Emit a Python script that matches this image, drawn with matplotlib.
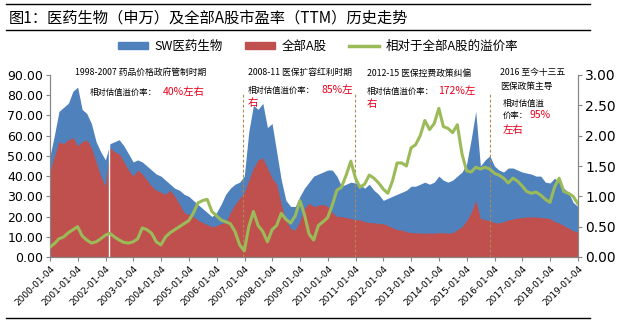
import matplotlib
matplotlib.use("Agg")
import matplotlib.pyplot as plt
import matplotlib.dates as mdates
from matplotlib.patches import Patch
from matplotlib.lines import Line2D
import pandas as pd
import numpy as np

plt.rcParams['font.family'] = ['Noto Sans CJK SC', 'DejaVu Sans']

# ---- data (bi-monthly samples) ----
dates = pd.date_range('2000-01-01', '2019-01-01', freq='2MS')

pe_pharma = [49.5, 60, 72, 74, 76, 82, 84, 73, 71, 66, 57, 52,
             48, 56, 57, 58, 55, 51, 47, 48, 47, 45, 43, 41,
             40, 38, 36, 34, 33, 31, 30, 28, 26, 24, 22, 20,
             22, 26, 31, 34, 36, 37, 40, 62, 75, 73, 76, 64,
             66, 52, 38, 28, 25, 25, 30, 34, 37, 40, 41, 42,
             43, 43, 40, 35, 36, 37, 36.6, 36, 34, 36, 33, 31,
             28, 29, 30, 31, 32, 33, 35, 35, 36, 37, 36, 37,
             40, 38, 37, 38, 40, 42, 46, 58, 72, 45, 48, 50,
             45, 43, 42, 44, 44, 43, 42, 41.5, 41, 40, 40, 37,
             36.6, 39, 37, 34, 32, 27, 25]

pe_all_a = [41.5, 50, 57, 56, 58, 59, 55, 57, 58, 54, 47, 40,
            35, 54, 52, 51, 47, 43, 40, 43, 41, 38, 35, 33,
            32, 31, 33, 30, 26, 22, 21, 20, 18.3, 17, 16, 15,
            15.5, 16.5, 17, 22, 26, 29, 32, 38, 44, 48, 49, 44,
            39, 36, 26, 18, 14, 13.3, 18, 24, 26.5, 25, 25.5, 26,
            25, 22, 20, 20, 19.5, 19, 18.5, 18.3, 17.5, 17, 17, 16.5,
            16.5, 15.5, 14.5, 13.5, 13.3, 12.5, 12, 12, 11.8, 11.8, 11.8, 11.8,
            12, 12, 11.8, 12, 13.5, 15, 18, 22, 28, 19, 18.5, 18,
            17, 16.8, 17.5, 18.3, 18.8, 19.3, 19.5, 19.8, 19.8, 19.8, 19.5, 19.3,
            19, 17.5, 16.8, 15.5, 14.3, 13, 12.4]

premium = [0.16, 0.22, 0.30, 0.33, 0.40, 0.45, 0.50, 0.35, 0.28, 0.23, 0.25, 0.30,
           0.36, 0.39, 0.33, 0.28, 0.24, 0.23, 0.25, 0.30, 0.48, 0.45, 0.39, 0.25,
           0.20, 0.33, 0.40, 0.45, 0.50, 0.55, 0.60, 0.72, 0.89, 0.93, 0.95, 0.75,
           0.68, 0.61, 0.58, 0.55, 0.42, 0.20, 0.10, 0.50, 0.75, 0.52, 0.42, 0.25,
           0.45, 0.52, 0.72, 0.62, 0.56, 0.68, 0.93, 0.70, 0.38, 0.28, 0.52, 0.58,
           0.65, 0.85, 1.10, 1.15, 1.35, 1.58, 1.30, 1.15, 1.20, 1.35, 1.30, 1.22,
           1.12, 1.05, 1.25, 1.55, 1.55, 1.50, 1.80, 1.85, 2.00, 2.25, 2.10, 2.20,
           2.45, 2.15, 2.12, 2.05, 2.18, 1.70, 1.42, 1.40, 1.48, 1.45, 1.48, 1.45,
           1.38, 1.35, 1.30, 1.22, 1.30, 1.25, 1.17, 1.08, 1.05, 1.07, 1.02, 0.95,
           0.90, 1.15, 1.30, 1.08, 1.05, 1.00, 0.88]

gap_dates = ['2002-02-15']
period_dates = ['2006-12-20', '2010-12-20', '2015-11-05']

tick_labels = ['2000-01-04', '2001-01-04', '2002-01-04', '2003-01-04', '2004-01-04',
               '2005-01-04', '2006-01-04', '2007-01-04', '2008-01-04', '2009-01-04',
               '2010-01-04', '2011-01-04', '2012-01-04', '2013-01-04', '2014-01-04',
               '2015-01-04', '2016-01-04', '2017-01-04', '2018-01-04', '2019-01-04']
left_ticks = [0, 10, 20, 30, 40, 50, 60, 70, 80, 90]
right_ticks = [0, 0.5, 1.0, 1.5, 2.0, 2.5, 3.0]

BLUE = '#4F81BD'
RED = '#C0504D'
GREEN = '#9BBB59'
DASH = '#B08850'
AXC = '#868686'

W, H = 622, 325
fig = plt.figure(figsize=(W / 100, H / 100), dpi=100)
ax = fig.add_axes([50 / W, 1 - 257 / H, 528 / W, 182 / H])

ax.fill_between(dates, pe_pharma, 0, color=BLUE, lw=0, zorder=1)
ax.fill_between(dates, pe_all_a, 0, color=RED, lw=0, zorder=2)
for d in gap_dates:
    ax.axvline(pd.Timestamp(d), color='white', lw=1.0, zorder=3)
for d in period_dates:
    ax.axvline(pd.Timestamp(d), ymin=0, ymax=0.9, color=DASH, lw=0.8,
               ls=(0, (2.5, 2)), zorder=4)

tick_dates = [pd.Timestamp(t) for t in tick_labels]
ax.set_xlim(tick_dates[0], tick_dates[-1])
ax.set_ylim(0, 90)
ax.set_yticks(left_ticks)
ax.set_yticklabels([f'{v:.2f}' for v in left_ticks], fontsize=9, family='DejaVu Sans')
ax.set_xticks(tick_dates)
ax.set_xticklabels(tick_labels, rotation=45, ha='right', rotation_mode='anchor',
                   fontsize=6.5, family='DejaVu Sans')

ax2 = ax.twinx()
ax2.plot(dates, premium, color=GREEN, lw=2.2, zorder=5)
ax2.set_ylim(0, 3)
ax2.set_yticks(right_ticks)
ax2.set_yticklabels([f'{v:.2f}' for v in right_ticks], fontsize=10, family='DejaVu Sans')
ax2.set_xlim(tick_dates[0], tick_dates[-1])

for a in (ax, ax2):
    a.spines['top'].set_visible(False)
    for s in ('left', 'right', 'bottom'):
        a.spines[s].set_color(AXC)
        a.spines[s].set_linewidth(0.8)
    a.tick_params(direction='out', length=3, width=0.8, color=AXC, pad=2)
    a.patch.set_visible(False)

# title and rules
fig.text(9 / W, 1 - 18 / H, '图1：医药生物（申万）及全部A股市盈率（TTM）历史走势',
         fontsize=11, va='center', ha='left')
for yy in (4, 30, 318):
    fig.add_artist(Line2D([6 / W, 590 / W], [1 - yy / H, 1 - yy / H],
                          color='black', lw=1.0))

# legend
handles = [Patch(color=BLUE), Patch(color=RED), Line2D([0], [0], color=GREEN, lw=2.5)]
fig.legend(handles, ['SW医药生物', '全部A股', '相对于全部A股的溢价率'],
           loc='center', bbox_to_anchor=(318 / W, 1 - 46 / H), ncol=3, frameon=False,
           fontsize=9, handlelength=2.4, handleheight=0.5, columnspacing=1.8,
           handletextpad=0.5)

def t(x, y, s, color='black', size=6):
    fig.text(x / W, 1 - y / H, s, color=color, fontsize=size, va='center', ha='left')

RC = '#E8001C'
t(75, 72, '1998-2007 药品价格政府管制时期', size=6.3)
t(90, 92, '相对估值溢价率：', size=6)
t(163, 92, '40%左右', RC, 7.5)

t(248, 72, '2008-11 医保扩容红利时期', size=6.3)
t(248, 90, '相对估值溢价率：', size=6)
t(322, 90, '85%左', RC, 7.5)
t(248, 103, '右', RC, 7.5)

t(367, 73, '2012-15 医保控费政策纠偏', size=6.3)
t(367, 91, '相对估值溢价率：', size=6)
t(438, 91, '172%左', RC, 7.5)
t(367, 104, '右', RC, 7.5)

t(500, 72, '2016 至今十三五', size=6.3)
t(500, 87, '医保政策主导', size=6.3)
t(503, 103, '相对估值溢', size=6)
t(503, 115, '价率：', size=6)
t(529, 115, '95%', RC, 7.5)
t(503, 130, '左右', RC, 7.5)

fig.savefig('out.png', dpi=100)
